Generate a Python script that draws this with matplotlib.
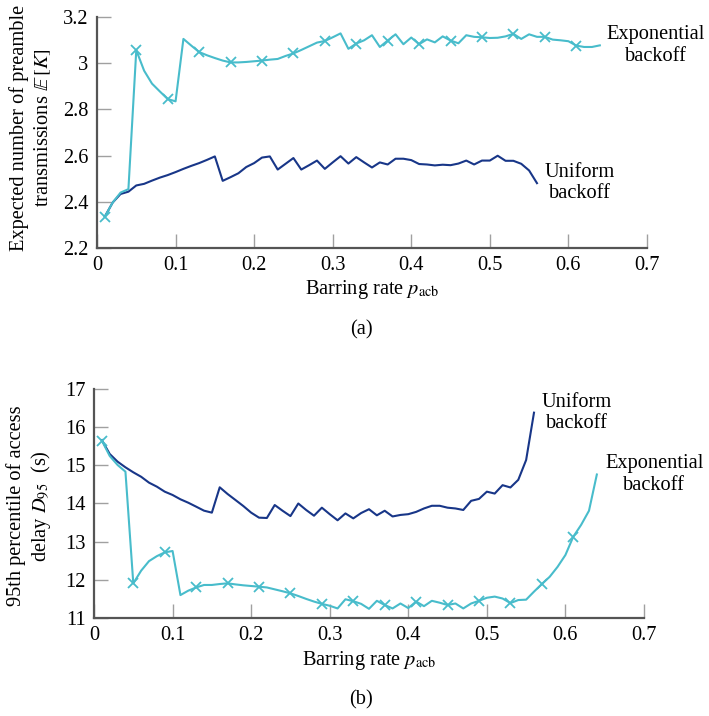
import matplotlib
matplotlib.use('Agg')
import matplotlib.pyplot as plt
import numpy as np

plt.rcParams['font.family'] = ['Liberation Serif', 'DejaVu Serif']
plt.rcParams['mathtext.fontset'] = 'stix'
plt.rcParams['font.size'] = 14.7

# barring rate grid (simulated points every 0.01)
p_exp = np.round(np.arange(1, 65) / 100, 2)
p_uni = np.round(np.arange(1, 57) / 100, 2)

# expected number of preamble transmissions E[K]
k_exp = [2.335, 2.396, 2.439, 2.454, 3.057, 2.968, 2.912, 2.878, 2.845, 2.835,
         3.106, 3.077, 3.049, 3.035, 3.023, 3.012, 3.004, 3.004, 3.006, 3.009,
         3.012, 3.016, 3.019, 3.032, 3.043, 3.058, 3.074, 3.090, 3.097, 3.113,
         3.130, 3.063, 3.086, 3.100, 3.122, 3.071, 3.099, 3.126, 3.083, 3.112,
         3.083, 3.104, 3.091, 3.117, 3.099, 3.087, 3.122, 3.115, 3.113, 3.110,
         3.111, 3.117, 3.128, 3.106, 3.126, 3.115, 3.115, 3.103, 3.100, 3.096,
         3.077, 3.071, 3.071, 3.078]
k_uni = [2.335, 2.396, 2.433, 2.443, 2.470, 2.477, 2.491, 2.504, 2.515, 2.528,
         2.542, 2.555, 2.567, 2.581, 2.596, 2.490, 2.506, 2.523, 2.550, 2.567,
         2.591, 2.596, 2.539, 2.564, 2.589, 2.539, 2.558, 2.578, 2.542, 2.570,
         2.597, 2.565, 2.593, 2.570, 2.548, 2.570, 2.561, 2.586, 2.586, 2.580,
         2.563, 2.561, 2.557, 2.560, 2.558, 2.565, 2.578, 2.561, 2.578, 2.578,
         2.599, 2.577, 2.577, 2.564, 2.535, 2.480]

# 95th percentile of access delay D95 (s)
d_exp = [15.646, 15.245, 15.009, 14.834, 11.908, 12.24, 12.49, 12.62, 12.72, 12.755,
         11.60, 11.716, 11.80, 11.865, 11.865, 11.89, 11.908, 11.88, 11.856, 11.838,
         11.82, 11.80, 11.75, 11.70, 11.646, 11.576, 11.50, 11.43, 11.37, 11.32,
         11.25, 11.49, 11.44, 11.37, 11.24, 11.45, 11.34, 11.25, 11.38, 11.26,
         11.43, 11.31, 11.45, 11.40, 11.34, 11.38, 11.25, 11.38, 11.45, 11.53,
         11.56, 11.51, 11.39, 11.47, 11.48, 11.69, 11.89, 12.08, 12.34, 12.65,
         13.13, 13.44, 13.81, 14.76]
d_uni = [15.66, 15.297, 15.096, 14.948, 14.817, 14.70, 14.546, 14.441, 14.31, 14.223,
         14.11, 14.02, 13.917, 13.812, 13.76, 14.424, 14.249, 14.092, 13.934, 13.76,
         13.629, 13.62, 13.96, 13.81, 13.67, 14.00, 13.83, 13.68, 13.89, 13.72,
         13.56, 13.74, 13.61, 13.75, 13.85, 13.69, 13.81, 13.66, 13.70, 13.72,
         13.78, 13.87, 13.94, 13.94, 13.89, 13.87, 13.83, 14.07, 14.12, 14.31,
         14.26, 14.48, 14.42, 14.62, 15.14, 16.38]

x_ticks = [0, 0.1, 0.2, 0.3, 0.4, 0.5, 0.6, 0.7]
x_ticklabels = ['0', '0.1', '0.2', '0.3', '0.4', '0.5', '0.6', '0.7']
k_ticks = [2.2, 2.4, 2.6, 2.8, 3.0, 3.2]
k_ticklabels = ['2.2', '2.4', '2.6', '2.8', '3', '3.2']
d_ticks = [11, 12, 13, 14, 15, 16, 17]

C_UNI = '#183688'
C_EXP = '#48bccb'


def estilo_ejes(ax):
    for s in ['top', 'right']:
        ax.spines[s].set_visible(False)
    for s in ['left', 'bottom']:
        ax.spines[s].set_color('#555555')
        ax.spines[s].set_linewidth(1.6)
    ax.tick_params(direction='in', length=10, width=1.0, color='#a0a0a0',
                   labelcolor='black', pad=6)


def dibujar(ax, y_exp, y_uni):
    ax.plot(p_uni, y_uni, color=C_UNI, lw=1.5, clip_on=False)
    ax.plot(p_exp, y_exp, color=C_EXP, lw=1.5, marker='x', markersize=6.5,
            markeredgewidth=1.3, markevery=(0, 4), clip_on=False)


fig = plt.figure(figsize=(7.09, 7.16), dpi=100)

# (a) numero esperado de transmisiones
ax1 = fig.add_axes([0.1368, 0.6541, 0.7757, 0.3218])
dibujar(ax1, k_exp, k_uni)
ax1.set_xlim(0, 0.7)
ax1.set_ylim(2.2, 3.2)
ax1.set_xticks(x_ticks)
ax1.set_xticklabels(x_ticklabels)
ax1.set_yticks(k_ticks)
ax1.set_yticklabels(k_ticklabels)
estilo_ejes(ax1)
ax1.set_xlabel(r'Barring rate $p_{\mathrm{acb}}$')
ax1.xaxis.set_label_coords(0.5, -0.13)
ax1.set_ylabel('Expected number of preamble\ntransmissions $\\mathbb{E}\\,[K]$')
ax1.yaxis.set_label_coords(-0.08, 0.52)
ax1.text(0.711, 3.079, 'Exponential\nbackoff', ha='center', va='center', clip_on=False)
ax1.text(0.615, 2.481, 'Uniform\nbackoff', ha='center', va='center', clip_on=False)

# (b) percentil 95 del retardo de acceso
ax2 = fig.add_axes([0.1326, 0.1369, 0.7757, 0.3198])
dibujar(ax2, d_exp, d_uni)
ax2.set_xlim(0, 0.7)
ax2.set_ylim(11, 17)
ax2.set_xticks(x_ticks)
ax2.set_xticklabels(x_ticklabels)
ax2.set_yticks(d_ticks)
estilo_ejes(ax2)
ax2.set_xlabel(r'Barring rate $p_{\mathrm{acb}}$')
ax2.xaxis.set_label_coords(0.5, -0.135)
ax2.set_ylabel('95th percentile of access\ndelay $D_{95}$  (s)')
ax2.yaxis.set_label_coords(-0.074, 0.49)
ax2.text(0.615, 16.37, 'Uniform\nbackoff', ha='center', va='center', clip_on=False)
ax2.text(0.713, 14.77, 'Exponential\nbackoff', ha='center', va='center', clip_on=False)

fig.text(361 / 709, 1 - 330 / 716, '(a)', ha='center', va='center')
fig.text(361 / 709, 1 - 700 / 716, '(b)', ha='center', va='center')

fig.savefig('out.png', dpi=100)
